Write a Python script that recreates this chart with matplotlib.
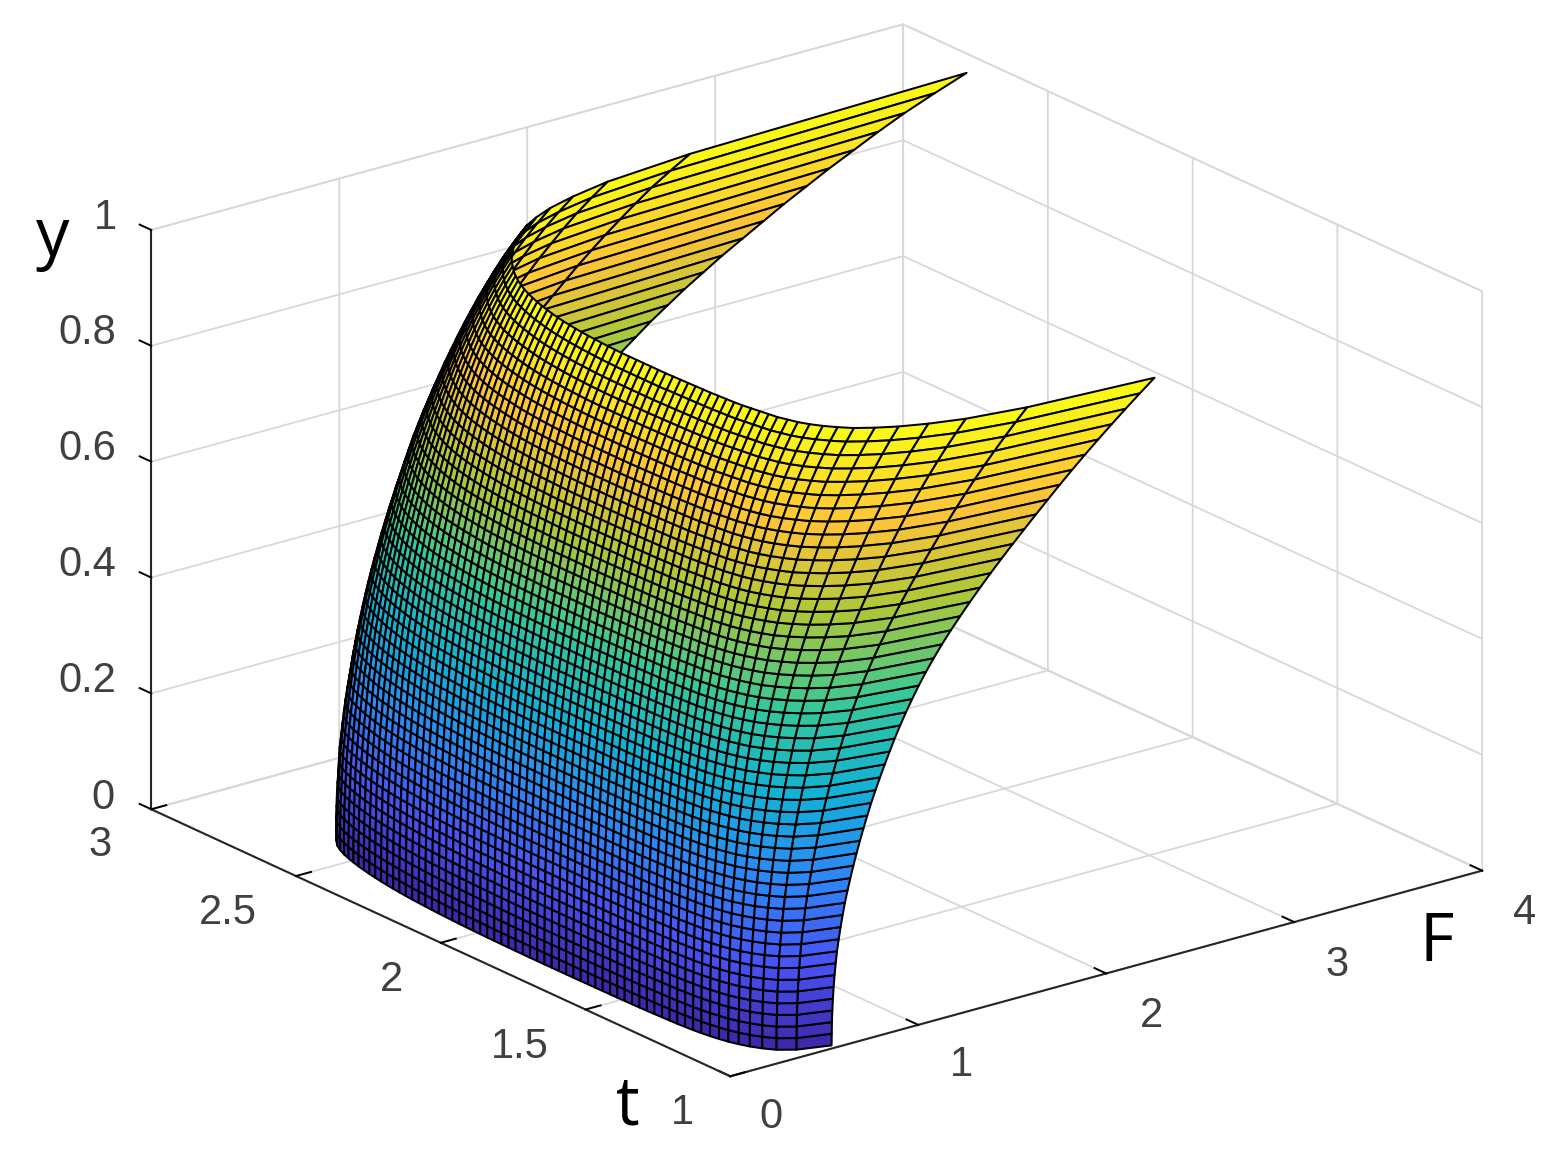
import numpy as np
import matplotlib
matplotlib.use('Agg')
import matplotlib.pyplot as plt
from matplotlib.colors import LinearSegmentedColormap

# y levels of the mesh rows
y_levels = [0.00, 0.02, 0.04, 0.06, 0.08, 0.10, 0.12, 0.14, 0.16, 0.18,
            0.20, 0.22, 0.24, 0.26, 0.28, 0.30, 0.32, 0.34, 0.36, 0.38,
            0.40, 0.42, 0.44, 0.46, 0.48, 0.50, 0.52, 0.54, 0.56, 0.58,
            0.60, 0.62, 0.64, 0.66, 0.68, 0.70, 0.72, 0.74, 0.76, 0.78,
            0.80, 0.82, 0.84, 0.86, 0.88, 0.90, 0.92, 0.94, 0.96, 0.98, 1.00]

# smallest F on each row
F_low = [.190, .190, .190, .191, .191, .192, .193, .194, .195, .197,
         .199, .201, .203, .206, .209, .212, .215, .219, .223, .228,
         .233, .239, .245, .252, .259, .267, .275, .284, .293, .303,
         .313, .324, .335, .347, .359, .372, .385, .399, .413, .428,
         .443, .459, .476, .495, .515, .537, .561, .587, .615, .646, .680]

# F on each row at the front edge, next to t=1
F_front = [.562, .563, .564, .566, .569, .573, .578, .584, .591, .600,
           .610, .621, .633, .647, .662, .678, .695, .713, .732, .752,
           .773, .796, .820, .845, .871, .898, .927, .958, .991, 1.026,
           1.064, 1.105, 1.149, 1.196, 1.246, 1.298, 1.352, 1.408, 1.466, 1.526,
           1.587, 1.649, 1.712, 1.776, 1.842, 1.910, 1.980, 2.052, 2.126, 2.202, 2.280]

# F on each row at the back edge
F_back = [.850, .850, .850, .855, .860, .870, .880, .890, .900, .920,
          .940, .960, .985, 1.010, 1.040, 1.070, 1.100, 1.135, 1.170, 1.210,
          1.250, 1.290, 1.335, 1.380, 1.430, 1.480, 1.530, 1.585, 1.640, 1.700,
          1.760, 1.825, 1.890, 1.955, 2.020, 2.100, 2.180, 2.270, 2.360, 2.460,
          2.560, 2.670, 2.780, 2.890, 3.010, 3.130, 3.260, 3.390, 3.530, 3.690, 3.860]

# t levels of the mesh columns
t_levels = [1.015, 1.040, 1.065, 1.090, 1.115, 1.140, 1.165, 1.190, 1.215, 1.240,
            1.265, 1.290, 1.315, 1.340, 1.365, 1.390, 1.415, 1.440, 1.465, 1.490,
            1.515, 1.540, 1.565, 1.590, 1.615, 1.640, 1.665, 1.690, 1.715, 1.740,
            1.765, 1.790, 1.815, 1.840, 1.865, 1.890, 1.915, 1.940, 1.965, 1.990,
            2.015, 2.040, 2.065, 2.090, 2.115, 2.140, 2.165, 2.190, 2.215, 2.240,
            2.265, 2.290, 2.315, 2.340, 2.365, 2.390, 2.415, 2.440, 2.465, 2.490,
            2.515, 2.540, 2.565, 2.590, 2.615, 2.640, 2.665, 2.690]

# how far each column sits from F_low towards F_front
front_share = [1.00, .600, .420, .320, .245, .190, .145, .115, .090, .070,
               .055, .045, .035, .030, .025, .020, .015, .012, .010, .008,
               .006, .005, .004, .003, .002, .001, 0, 0, 0, 0,
               0, 0, 0, 0, 0, 0, 0, 0, 0, 0,
               0, 0, 0, 0, 0, 0, 0, 0, 0, 0,
               0, 0, 0, 0, 0, 0, 0, 0, 0, 0,
               0, 0, 0, 0, 0, 0, 0, 0]

# how far each column sits from F_low towards F_back
back_share = [0, 0, 0, 0, 0, 0, 0, 0, 0, 0,
              0, 0, 0, 0, 0, 0, 0, 0, 0, 0,
              0, 0, 0, 0, 0, 0, 0, 0, 0, 0,
              0, 0, 0, .0005, .001, .002, .003, .004, .0055, .007,
              .009, .011, .0135, .0165, .020, .0235, .0275, .032, .037, .0425,
              .049, .056, .064, .073, .083, .094, .106, .120, .135, .152,
              .171, .1925, .220, .255, .305, .375, .525, 1.00]

F_ticks = [0, 1, 2, 3, 4]
F_ticklabels = ['0', '1', '2', '3', '4']
t_ticks = [1, 1.5, 2, 2.5, 3]
t_ticklabels = ['1', '1.5', '2', '2.5', '3']
y_ticks = [0, 0.2, 0.4, 0.6, 0.8, 1]
y_ticklabels = ['0', '0.2', '0.4', '0.6', '0.8', '1']

parula = LinearSegmentedColormap.from_list('parula', [
    (0.2422, 0.1504, 0.6603), (0.2810, 0.3228, 0.9579), (0.1786, 0.5289, 0.9682),
    (0.0689, 0.6948, 0.8394), (0.2161, 0.7843, 0.5923), (0.6720, 0.7793, 0.2227),
    (0.9970, 0.7659, 0.2199), (0.9769, 0.9839, 0.0805)])

T, Y = np.meshgrid(t_levels, y_levels)
s_front = np.array(front_share)
s_back = np.array(back_share)
F = np.outer(F_low, 1 - s_front - s_back) + np.outer(F_front, s_front) + np.outer(F_back, s_back)
mid = (Y[:-1, :-1] + Y[1:, 1:]) / 2
face_colors = parula(mid)

plt.rcParams['font.family'] = ['Liberation Sans', 'DejaVu Sans']
fig = plt.figure(figsize=(15.6, 11.62), dpi=100)
ax = fig.add_axes([21 / 1560, 15 / 1162, 1, 1], projection='3d')
ax.set_proj_type('ortho')
ax.view_init(elev=20.8, azim=-127.6)
ax.set_box_aspect((1, 1, 0.653), zoom=1.235)
ax.patch.set_alpha(0)

ax.plot_surface(F, T, Y, facecolors=face_colors, rstride=1, cstride=1,
                shade=False, edgecolor='black', linewidth=1.45)

ax.set_xlim(0, 4, view_margin=0)
ax.set_ylim(1, 3, view_margin=0)
ax.set_zlim(0, 1, view_margin=0)
ax.set_xticks(F_ticks)
ax.set_yticks(t_ticks)
ax.set_zticks(y_ticks)
ax.set_xticklabels([])
ax.set_yticklabels([])
ax.set_zticklabels([])
# z ticks point along t, not F
ax.zaxis._AXINFO['z']['tickdir'] = 1

for axis in (ax.xaxis, ax.yaxis, ax.zaxis):
    axis.set_pane_color((1, 1, 1, 1))
    axis.pane.set_edgecolor('#d9d9d9')
    axis.pane.set_linewidth(1.2)
    axis.line.set_color('#262626')
    axis.line.set_linewidth(1.5)
    axis._axinfo['grid'].update(color='#d8d8d8', linewidth=1.3)
    axis._axinfo['tick'].update(inward_factor=0.0, outward_factor=0.25, color='#303030',
                                linewidth={True: 1.4, False: 0.5})


def put_text(px, py, s, size, family='Liberation Sans', color='#404040'):
    ax.text2D(px / 1560, 1 - py / 1162, s, transform=fig.transFigure, fontsize=size,
              family=family, color=color, ha='center', va='center')


F_label_px = [(771, 1117), (961, 1065), (1151, 1016), (1337, 965), (1525, 913)]
t_label_px = [(682, 1113), (520, 1047), (391, 980), (228, 913), (100, 845)]
y_label_px = [(103, 798), (87, 681), (87, 565), (87, 449), (87, 333), (105, 218)]
for labels, places in ((F_ticklabels, F_label_px), (t_ticklabels, t_label_px), (y_ticklabels, y_label_px)):
    for s, (px, py) in zip(labels, places):
        put_text(px, py, s, 30)

put_text(1437, 943, 'F', 48, 'Open Sans', 'black')
put_text(628, 1107, 't', 48, 'Open Sans', 'black')
put_text(53, 238, 'y', 48, 'Open Sans', 'black')

fig.savefig('out.png', dpi=100)
plt.close(fig)
